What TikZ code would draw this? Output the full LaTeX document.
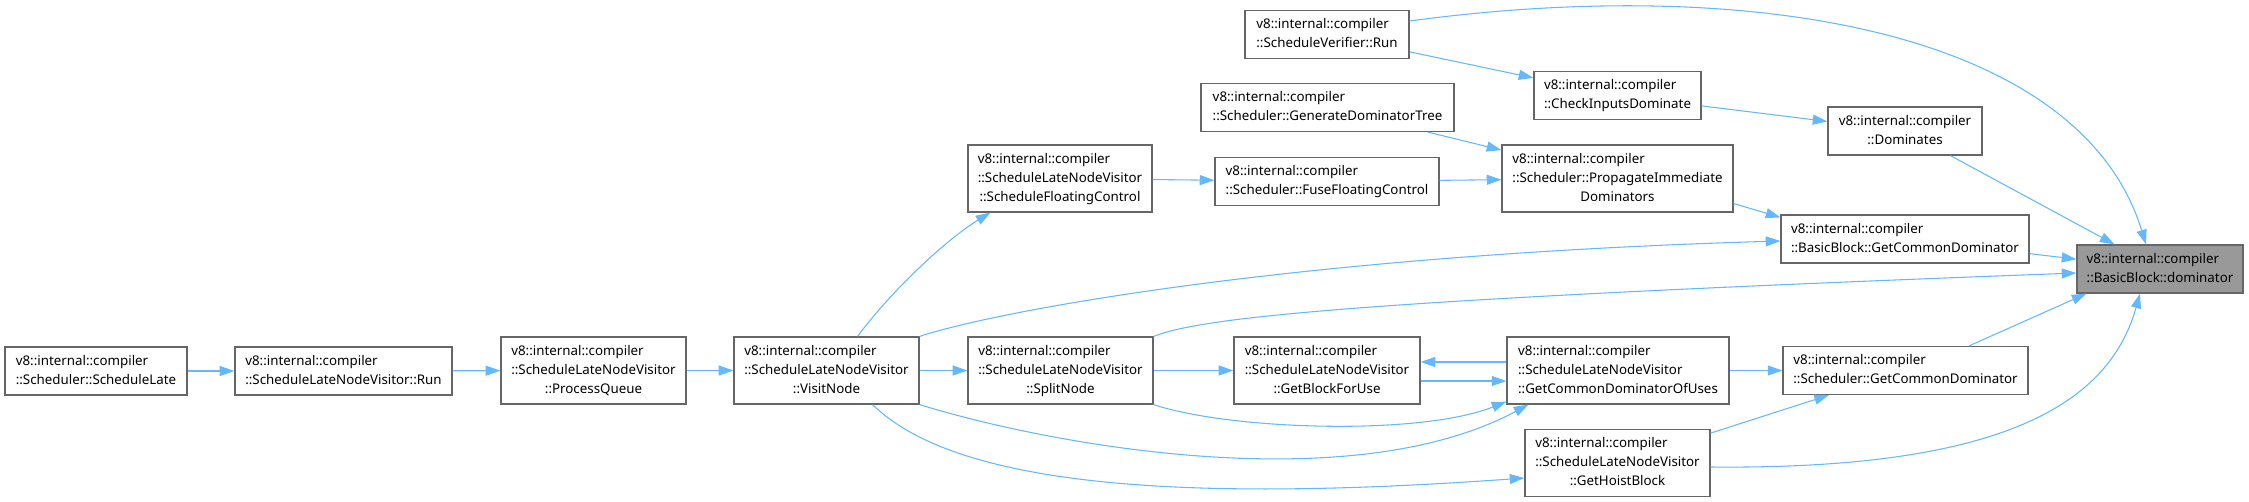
\documentclass[tikz,border=0pt]{standalone}
\usepackage{fontspec}
\setmainfont{Noto Sans}
\usepackage{tikz}
\usetikzlibrary{arrows.meta, calc}
\definecolor{callblue}{HTML}{63B8FF}
\definecolor{boxgray}{HTML}{666666}
\definecolor{curgray}{HTML}{999999}
\newcommand{\fnfont}{\fontsize{10pt}{14.25pt}\selectfont}
\newcommand{\fnl}[2]{\begin{tabular}{@{}l@{}}#1\\\multicolumn{1}{@{}c@{}}{#2}\end{tabular}}

\begin{document}
\begin{tikzpicture}[
    x=0.75pt, y=-0.75pt,
    fn/.style   = {draw=boxgray, line width=0.9pt, fill=white, inner sep=0pt,
                   font=\fnfont, minimum height=36pt},
    fn3/.style  = {fn, minimum height=50.25pt},
    call/.style = {-{Triangle[length=11pt,width=7.5pt]}, draw=callblue,
                   line width=0.8pt},
  ]
  \useasboundingbox (0,0) rectangle (2249,502);

  %% Call chain on the left
  \node[fn, minimum width=136.5pt] (late) at (96,371)
        {\fnl{v8::internal::compiler}{::Scheduler::ScheduleLate}};
  \node[fn, minimum width=162.75pt] (run) at (343.5,371)
        {\fnl{v8::internal::compiler}{::ScheduleLateNodeVisitor::Run}};
  \node[fn3, minimum width=138.75pt] (pq) at (593.5,370.5)
        {\fnl{v8::internal::compiler\\::ScheduleLateNodeVisitor}{::ProcessQueue}};
  \node[fn3, minimum width=138.75pt] (visit) at (826.5,370.5)
        {\fnl{v8::internal::compiler\\::ScheduleLateNodeVisitor}{::VisitNode}};

  %% Middle ranks
  \node[fn3, minimum width=138pt] (sfc) at (1060,178.5)
        {\fnl{v8::internal::compiler\\::ScheduleLateNodeVisitor}{::ScheduleFloatingControl}};
  \node[fn3, minimum width=138.75pt] (split) at (1060.5,370.5)
        {\fnl{v8::internal::compiler\\::ScheduleLateNodeVisitor}{::SplitNode}};

  \node[fn, minimum width=123pt] (svr) at (1327,34.5)
        {\fnl{v8::internal::compiler}{::ScheduleVerifier::Run}};
  \node[fn, minimum width=189.75pt] (gdt) at (1327.5,107.5)
        {\fnl{v8::internal::compiler}{::Scheduler::GenerateDominatorTree}};
  \node[fn, minimum width=168pt] (ffc) at (1327,181.5)
        {\fnl{v8::internal::compiler}{::Scheduler::FuseFloatingControl}};
  \node[fn3, minimum width=139.5pt] (gbfu) at (1327,370.5)
        {\fnl{v8::internal::compiler\\::ScheduleLateNodeVisitor}{::GetBlockForUse}};

  \node[fn, minimum width=125.25pt] (cid) at (1617.5,95.5)
        {\fnl{v8::internal::compiler}{::CheckInputsDominate}};
  \node[fn3, minimum width=173.25pt] (pid) at (1617.5,178.5)
        {\fnl{v8::internal::compiler\\::Scheduler::PropagateImmediate}{Dominators}};
  \node[fn3, minimum width=166.5pt] (gcdou) at (1618,370.5)
        {\fnl{v8::internal::compiler\\::ScheduleLateNodeVisitor}{::GetCommonDominatorOfUses}};
  \node[fn3, minimum width=138.75pt] (ghb) at (1617.5,463)
        {\fnl{v8::internal::compiler\\::ScheduleLateNodeVisitor}{::GetHoistBlock}};

  \node[fn, minimum width=115.5pt] (dom) at (1905,131)
        {\fnl{v8::internal::compiler}{::Dominates}};
  \node[fn, minimum width=186pt] (bbgcd) at (1905,239)
        {\fnl{v8::internal::compiler}{::BasicBlock::GetCommonDominator}};
  \node[fn, minimum width=183.75pt] (sgcd) at (1905.5,370.5)
        {\fnl{v8::internal::compiler}{::Scheduler::GetCommonDominator}};

  %% The function itself
  \node[fn, fill=curgray, minimum width=124.5pt] (domr) at (2160,269)
        {\fnl{v8::internal::compiler}{::BasicBlock::dominator}};

  %% Straight calls
  \draw[call] (late) -- (run);
  \draw[call] (run) -- (pq);
  \draw[call] (pq) -- (visit);
  \draw[call] (visit) -- (split);
  \draw[call] (split) -- (gbfu);
  \draw[call] (sfc) -- (ffc);
  \draw[call] (ffc) -- (pid);
  \draw[call] (gdt) -- (pid);
  \draw[call] (svr) -- (cid);
  \draw[call] (cid) -- (dom);
  \draw[call] (gcdou) -- (sgcd);
  \draw[call] (ghb) -- (sgcd);
  \draw[call] (dom) -- (domr);
  \draw[call] (bbgcd) -- (domr);
  \draw[call] ($(pid.east)+(0,25)$) -- ($(bbgcd.north west)+(0,3)$);
  \draw[call] ($(sgcd.north)+(63.5,0)$) -- ($(domr.south west)+(10,0)$);
  \draw[call] ($(gcdou.west)+(0,-8.5)$) -- ($(gbfu.east)+(0,-8.5)$);
  \draw[call] ($(gbfu.east)+(0,10.5)$) -- ($(gcdou.west)+(0,10.5)$);

  %% Curved calls
  \draw[call] ($(visit.north)+(31,0)$) .. controls (893,289) and (947,239)
        .. ($(sfc.south west)+(23,0)$);
  \draw[call] (visit.north east) .. controls (1000,310) and (1300,255)
        .. ($(bbgcd.west)+(0,2)$);
  \draw[call] (split.north east) .. controls (1200,318) and (1350,300)
        .. ($(domr.west)+(0,4)$);
  \draw[call] (split.south east) .. controls (1230,430) and (1420,436)
        .. ($(gcdou.south west)+(0,-3)$);
  \draw[call] (visit.south east) .. controls (1050,445) and (1350,500)
        .. ($(gcdou.south west)+(22,0)$);
  \draw[call] ($(visit.south)+(46,0)$) .. controls (950,480) and (1150,505)
        .. ($(ghb.west)+(0,15)$);
  \draw[call] ($(ghb.east)+(0,4)$) .. controls (2010,470) and (2110,400)
        .. ($(domr.south)+(-20,0)$);
  \draw[call] ($(svr.east)+(0,-13.5)$) .. controls (1750,-25) and (2080,30)
        .. ($(domr.north)+(-14,0)$);

\end{tikzpicture}
\end{document}
